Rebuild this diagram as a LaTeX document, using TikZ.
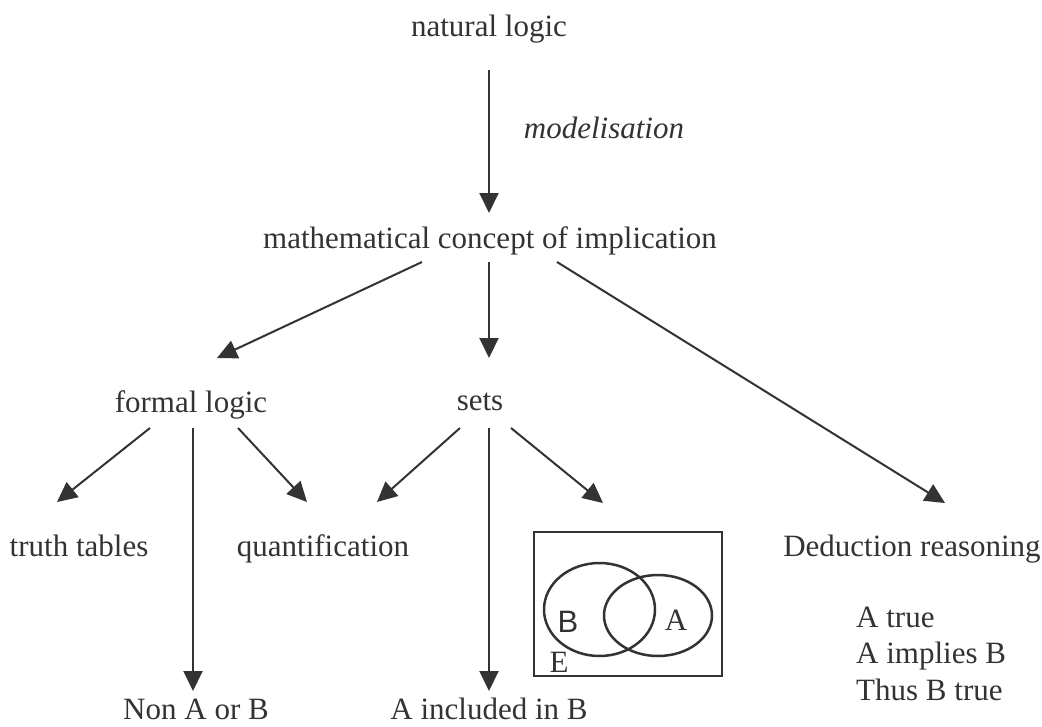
\documentclass[tikz,border=0pt]{standalone}
\usepackage{fontspec}
\setmainfont{Liberation Serif}
\newfontfamily\vennfont{Liberation Sans}
\usetikzlibrary{arrows.meta}
\definecolor{ink}{RGB}{51,51,51}
\tikzset{
  lbl/.style={anchor=base, inner sep=0pt, text=ink, font=\fontsize{31}{37}\selectfont},
  arr/.style={draw=ink, line width=2pt, -{Triangle[length=20pt,width=19pt]}},
  venn/.style={draw=ink, line width=2.5pt},
}

\begin{document}
\begin{tikzpicture}[x=1pt, y=-1pt]
    \useasboundingbox (0,0) rectangle (1042,726);

    % labels
    \node[lbl] (nat)    at (489,36)  {natural logic};
    \node[lbl] (model)  at (604,138) {\itshape modelisation};
    \node[lbl] (math)   at (490,248) {mathematical concept of implication};
    \node[lbl] (formal) at (191,412) {formal logic};
    \node[lbl] (sets)   at (480,410) {sets};
    \node[lbl] (truth)  at (79,556)  {truth tables};
    \node[lbl] (quant)  at (323,556) {quantification};
    \node[lbl] (deduct) at (912,556) {Deduction reasoning};
    \node[lbl] (nonab)  at (196,719) {Non A or B};
    \node[lbl] (incl)   at (489,719) {A included in B};
    \node[lbl, anchor=base west] (step1) at (856,627) {A true};
    \node[lbl, anchor=base west] (step2) at (856,663) {A implies B};
    \node[lbl, anchor=base west] (step3) at (856,700) {Thus B true};

    % ends of the arrows
    \coordinate (nat-s)    at (489,70);
    \coordinate (math-n)   at (489,213);
    \coordinate (math-sw)  at (422,262);
    \coordinate (math-s)   at (489,262);
    \coordinate (math-se)  at (557,262);
    \coordinate (formal-n) at (217,358);
    \coordinate (sets-n)   at (489,358);
    \coordinate (deduct-n) at (945,503);
    \coordinate (formal-sw) at (150,428);
    \coordinate (formal-s)  at (193,428);
    \coordinate (formal-se) at (238,428);
    \coordinate (sets-sw)  at (460,428);
    \coordinate (sets-s)   at (489,428);
    \coordinate (sets-se)  at (511,428);
    \coordinate (truth-n)  at (57,502);
    \coordinate (quant-nw) at (307,502);
    \coordinate (quant-ne) at (377,502);
    \coordinate (box-n)    at (603,503);
    \coordinate (nonab-n)  at (193,691);
    \coordinate (incl-n)   at (489,691);

    \draw[arr] (nat-s) -- (math-n);
    \draw[arr] (math-sw) -- (formal-n);
    \draw[arr] (math-s) -- (sets-n);
    \draw[arr] (math-se) -- (deduct-n);
    \draw[arr] (formal-sw) -- (truth-n);
    \draw[arr] (formal-s) -- (nonab-n);
    \draw[arr] (formal-se) -- (quant-nw);
    \draw[arr] (sets-sw) -- (quant-ne);
    \draw[arr] (sets-s) -- (incl-n);
    \draw[arr] (sets-se) -- (box-n);

    % venn diagram
    \draw[venn] (534,532) rectangle (722,676);
    \draw[venn] (599.5,609.5) ellipse [x radius=55.5, y radius=46.5];
    \draw[venn] (658,615.5) ellipse [x radius=54, y radius=40.5];
    \node[lbl, font=\vennfont\fontsize{31}{37}\selectfont] (setB) at (568,632) {B};
    \node[lbl] (setA) at (676,630) {A};
    \node[lbl] (setE) at (559,672) {E};
\end{tikzpicture}
\end{document}
